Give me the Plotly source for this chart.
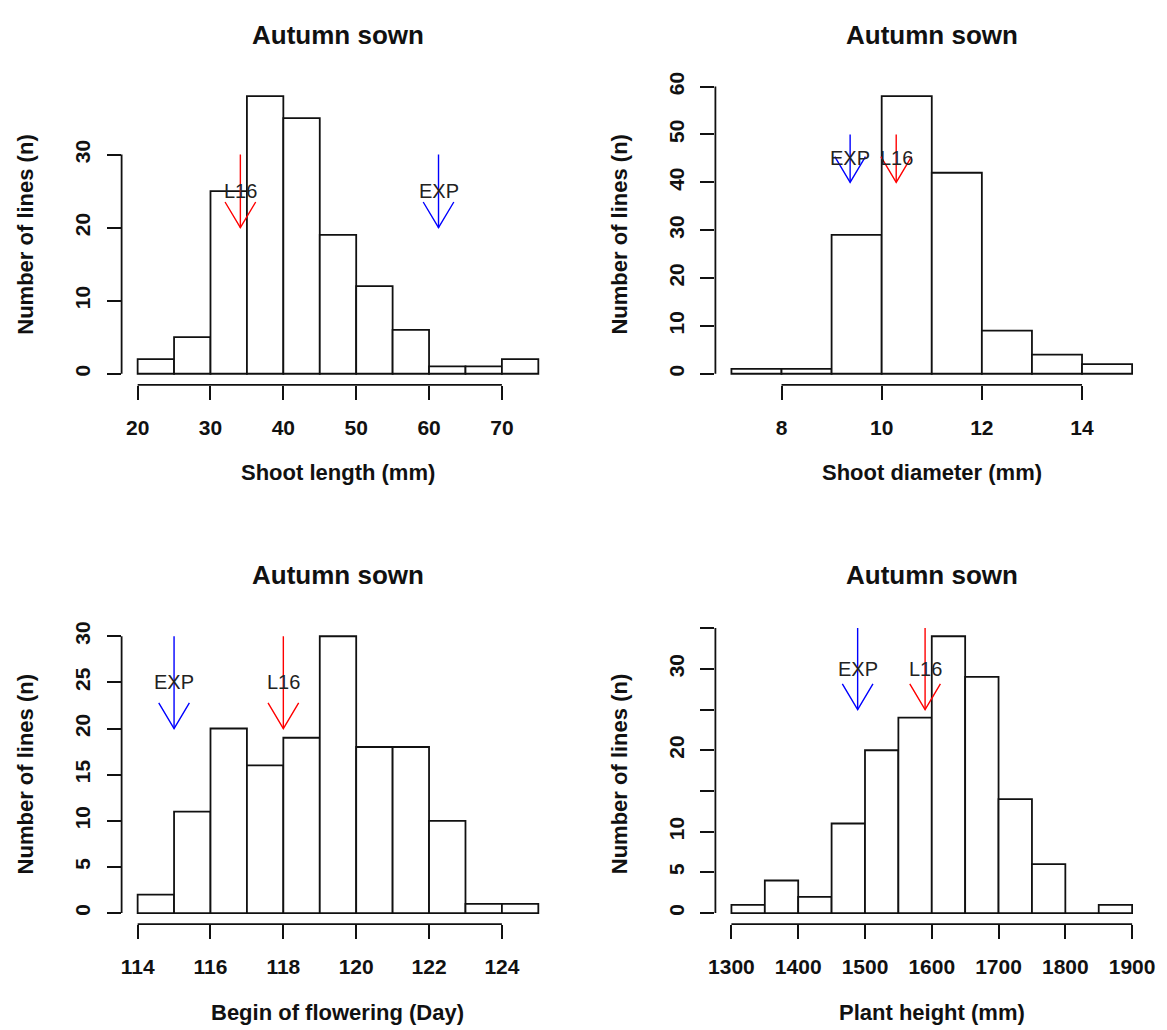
import plotly.graph_objects as go

W, H = 1167, 1030

# ---- histogram data: bin edges and counts ----
shoot_length_edges = [20, 25, 30, 35, 40, 45, 50, 55, 60, 65, 70, 75]
shoot_length_counts = [2, 5, 25, 38, 35, 19, 12, 6, 1, 1, 2]

shoot_diameter_edges = [7, 8, 9, 10, 11, 12, 13, 14, 15]
shoot_diameter_counts = [1, 1, 29, 58, 42, 9, 4, 2]

flowering_edges = [114, 115, 116, 117, 118, 119, 120, 121, 122, 123, 124, 125]
flowering_counts = [2, 11, 20, 16, 19, 30, 18, 18, 10, 1, 1]

height_edges = [1300, 1350, 1400, 1450, 1500, 1550, 1600, 1650, 1700, 1750,
                1800, 1850, 1900]
height_counts = [1, 4, 2, 11, 20, 24, 34, 29, 14, 6, 0, 1]

# ---- reference genotypes marked by arrows ----
l16_values = [34.1, 10.29, 118, 1590]
exp_values = [61.3, 9.37, 115, 1489]
arrow_tops = [30, 50, 30, 35]
arrow_tips = [20, 40, 20, 25]

# ---- tick values / labels ----
shoot_length_xticks = [20, 30, 40, 50, 60, 70]
shoot_length_yticks = [0, 10, 20, 30]
shoot_diameter_xticks = [8, 10, 12, 14]
shoot_diameter_yticks = [0, 10, 20, 30, 40, 50, 60]
flowering_xticks = [114, 116, 118, 120, 122, 124]
flowering_yticks = [0, 5, 10, 15, 20, 25, 30]
height_xticks = [1300, 1400, 1500, 1600, 1700, 1800, 1900]
height_yticks = [0, 5, 10, 15, 20, 25, 30, 35]
height_yticklabels = ["0", "5", "10", "", "20", "", "30", ""]

panel_title = "Autumn sown"
y_title = "Number of lines (n)"
x_titles = ["Shoot length (mm)", "Shoot diameter (mm)",
            "Begin of flowering (Day)", "Plant height (mm)"]

panels = [
    dict(edges=shoot_length_edges, counts=shoot_length_counts,
         xt=shoot_length_xticks, yt=shoot_length_yticks, ytl=None),
    dict(edges=shoot_diameter_edges, counts=shoot_diameter_counts,
         xt=shoot_diameter_xticks, yt=shoot_diameter_yticks, ytl=None),
    dict(edges=flowering_edges, counts=flowering_counts,
         xt=flowering_xticks, yt=flowering_yticks, ytl=None),
    dict(edges=height_edges, counts=height_counts,
         xt=height_xticks, yt=height_yticks, ytl=height_yticklabels),
]

# plot-region boxes in pixels (left, right, top, bottom)
col_px = [(116, 554), (717, 1155)]
row_px = [(73, 376.6), (620, 922.8)]

FONT = "Liberation Sans, Arial, sans-serif"
INK = "#111111"
RED = "#ff0000"
BLUE = "#0000ff"
LW = 1.8

fig = go.Figure()
layout = dict(
    width=W, height=H, margin=dict(l=0, r=0, t=0, b=0),
    paper_bgcolor="white", plot_bgcolor="white", showlegend=False,
    font=dict(family=FONT, color=INK),
)
shapes = []
annotations = []

HEAD_DX_PX, HEAD_DY_PX = 15.5, 26.0

for i, p in enumerate(panels):
    r, c = divmod(i, 2)
    (xl, xr), (yt_px, yb_px) = col_px[c], row_px[r]
    xa = "x" if i == 0 else f"x{i + 1}"
    ya = "y" if i == 0 else f"y{i + 1}"
    xkey = "xaxis" if i == 0 else f"xaxis{i + 1}"
    ykey = "yaxis" if i == 0 else f"yaxis{i + 1}"

    edges, counts = p["edges"], p["counts"]
    lo, hi = edges[0], edges[-1]
    xpad = 0.04 * (hi - lo)
    xrange_ = [lo - xpad, hi + xpad]
    ymax = max(counts)
    yrange_ = [-0.04 * ymax, 1.04 * ymax]

    centers = [(a + b) / 2 for a, b in zip(edges[:-1], edges[1:])]
    widths = [b - a for a, b in zip(edges[:-1], edges[1:])]
    fig.add_trace(go.Bar(
        x=centers, y=counts, width=widths, xaxis=xa, yaxis=ya,
        marker=dict(color="white", line=dict(color=INK, width=LW)),
        hoverinfo="skip",
    ))

    # arrows (shaft + open head) for L16 and EXP
    ppu_x = (xr - xl) / (xrange_[1] - xrange_[0])
    ppu_y = (yb_px - yt_px) / (yrange_[1] - yrange_[0])
    dx = HEAD_DX_PX / ppu_x
    dy = HEAD_DY_PX / ppu_y
    top, tip = arrow_tops[i], arrow_tips[i]
    for val, col, lab in ((l16_values[i], RED, "L16"),
                          (exp_values[i], BLUE, "EXP")):
        fig.add_trace(go.Scatter(
            x=[val, val, None, val - dx, val, val + dx],
            y=[top, tip, None, tip + dy, tip, tip + dy],
            mode="lines", line=dict(color=col, width=1.4),
            xaxis=xa, yaxis=ya, hoverinfo="skip",
        ))
        annotations.append(dict(
            x=val, y=(top + tip) / 2, xref=xa, yref=ya, text=lab,
            showarrow=False, xanchor="center", yanchor="middle",
            font=dict(size=20, family=FONT, color="#222222"),
        ))

    layout[xkey] = dict(
        domain=[xl / W, xr / W], range=xrange_, anchor=ya,
        showgrid=False, zeroline=False, showline=False,
        tickvals=p["xt"], ticks="outside", ticklen=14, tickwidth=LW,
        tickcolor=INK, ticklabelstandoff=10,
        tickfont=dict(size=21, family=FONT, color=INK, weight="bold"),
    )
    ydict = dict(
        domain=[1 - yb_px / H, 1 - yt_px / H], range=yrange_, anchor=xa,
        showgrid=False, zeroline=False, showline=False,
        tickvals=p["yt"], ticks="outside", ticklen=14, tickwidth=LW,
        tickcolor=INK, tickangle=-90, ticklabelstandoff=8,
        tickfont=dict(size=21, family=FONT, color=INK, weight="bold"),
    )
    if p["ytl"] is not None:
        ydict["ticktext"] = p["ytl"]
    layout[ykey] = ydict

    # axis lines spanning first to last tick
    shapes.append(dict(type="line", xref=xa, yref=f"{ya} domain",
                       x0=p["xt"][0], x1=p["xt"][-1], y0=0, y1=0,
                       line=dict(color=INK, width=LW)))
    shapes.append(dict(type="line", xref=f"{xa} domain", yref=ya,
                       x0=0, x1=0, y0=p["yt"][0], y1=p["yt"][-1],
                       line=dict(color=INK, width=LW)))

    # panel title, axis titles
    annotations.append(dict(
        x=0.5, xref=f"{xa} domain", y=1 - (yt_px - 51) / H, yref="paper",
        text=f"<b>{panel_title}</b>", showarrow=False,
        xanchor="center", yanchor="middle",
        font=dict(size=26, family=FONT, color=INK),
    ))
    annotations.append(dict(
        x=0.5, xref=f"{xa} domain", y=1 - (yb_px + 89) / H, yref="paper",
        text=f"<b>{x_titles[i]}</b>", showarrow=False,
        xanchor="center", yanchor="middle",
        font=dict(size=22, family=FONT, color=INK),
    ))
    annotations.append(dict(
        x=(xl - 97) / W, xref="paper", y=0.5, yref=f"{ya} domain",
        text=f"<b>{y_title}</b>", showarrow=False, textangle=-90,
        xanchor="center", yanchor="middle",
        font=dict(size=22, family=FONT, color=INK),
    ))

layout["shapes"] = shapes
layout["annotations"] = annotations
fig.update_layout(**layout)
fig.write_html("out.html")
